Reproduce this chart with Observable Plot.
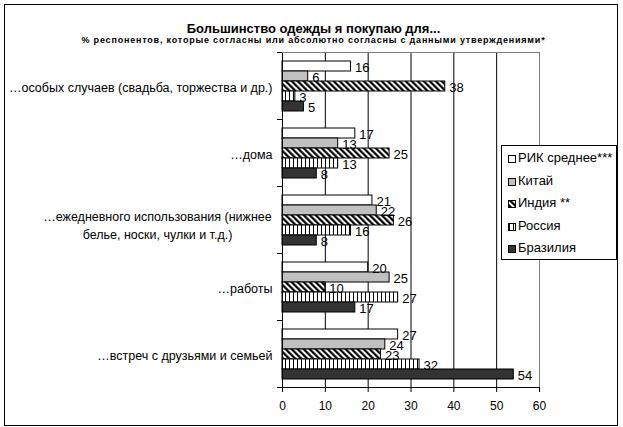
<!DOCTYPE html>
<html><head><meta charset="utf-8">
<script src="https://cdn.jsdelivr.net/npm/d3@7"></script>
<script src="https://cdn.jsdelivr.net/npm/@observablehq/plot@0.6"></script>
<style>
body{margin:0;background:#fff;font-family:"Liberation Sans",Arial,sans-serif;color:#000;}
#wrap{position:relative;width:623px;height:427px;overflow:hidden;background:#fff;}
#border{position:absolute;left:4px;top:4px;width:614px;height:422px;border:1px solid #000;box-sizing:border-box;pointer-events:none;}
#title{position:absolute;left:2px;width:623px;top:21px;line-height:15px;text-align:center;font-weight:bold;font-size:13px;}
#subtitle{position:absolute;left:2px;width:623px;top:35px;line-height:11px;text-align:center;font-weight:bold;font-size:9px;letter-spacing:0.8px;}
#chart{position:absolute;left:0;top:0;}
#legend{position:absolute;left:501px;top:145px;width:116px;height:115px;border:1px solid #000;box-sizing:border-box;background:#fff;}
.item{position:absolute;left:6px;height:14px;line-height:14px;font-size:13px;white-space:nowrap;}
.item svg{vertical-align:-1px;margin-right:2px;}
</style>
</head><body>
<div id="wrap">
  <div id="chart"></div>
  <div id="title">Большинство одежды я покупаю для...</div>
  <div id="subtitle">% респонентов, которые согласны или абсолютно согласны с данными утверждениями*</div>
  <div id="legend"></div>
  <div id="border"></div>
</div>
<script>
const categories = [
  "…особых случаев (свадьба, торжества и др.)",
  "…дома",
  "…ежедневного использования (нижнее\nбелье, носки, чулки и т.д.)",
  "…работы",
  "…встреч с друзьями и семьей"
];
const series = ["РИК среднее***", "Китай", "Индия **", "Россия", "Бразилия"];
const rik    = [16, 17, 21, 20, 27];
const china  = [6, 13, 22, 25, 24];
const india  = [38, 25, 26, 10, 23];
const russia = [3, 13, 16, 27, 32];
const brazil = [5, 8, 8, 17, 54];
const xTicks = [0, 10, 20, 30, 40, 50, 60];

const seriesValues = [rik, china, india, russia, brazil];
const fills = ["#ffffff", "#c0c0c0", "url(#hatch)", "url(#vstripe)", "#333333"];

const rows = [];
categories.forEach((c, i) => {
  series.forEach((s, j) => rows.push({category: c, series: s, value: seriesValues[j][i]}));
});

const single = categories.filter(c => !c.includes("\n"));
const multi = categories.filter(c => c.includes("\n"));

const plot = Plot.plot({
  width: 623,
  height: 427,
  marginLeft: 282,
  marginRight: 84,
  marginTop: 51,
  marginBottom: 40,
  style: {fontFamily: "'Liberation Sans', Arial, sans-serif", fontSize: "12px", background: "transparent", color: "#000"},
  x: {domain: [0, 60], ticks: xTicks, tickSize: 5, tickPadding: 9, label: null, tickFormat: d => String(d)},
  y: {domain: series, paddingInner: 0, paddingOuter: 0.66, axis: null},
  fy: {domain: categories, padding: 0, axis: null},
  color: {domain: series, range: fills},
  marks: [
    Plot.ruleX(xTicks.filter(t => t > 0 && t < 60), {stroke: "#000", strokeWidth: 1}),
    Plot.ruleX([60], {stroke: "#808080", strokeWidth: 1}),
    Plot.barX(rows, {x: "value", y: "series", fy: "category", fill: "series", stroke: "#000", strokeWidth: 1}),
    Plot.ruleX([0], {stroke: "#000", strokeWidth: 1}),
    Plot.text(rows, {x: "value", y: "series", fy: "category", text: d => String(d.value), textAnchor: "start", dx: 4, dy: 1, fontSize: 13, fill: "#000"}),
    Plot.text(single, {fy: d => d, text: d => d, frameAnchor: "left", textAnchor: "end", dx: -10, dy: 2, fontSize: 12.5, fill: "#000"}),
    Plot.text(multi, {fy: d => d, text: d => d, frameAnchor: "left", textAnchor: "middle", dx: -125, dy: 4, lineHeight: 1.5, fontSize: 12.5, fill: "#000"})
  ]
});

document.getElementById("chart").appendChild(plot);

// pattern defs
const svg = d3.select(plot);
const defs = svg.insert("defs", ":first-child");
const h = defs.append("pattern").attr("id", "hatch").attr("patternUnits", "userSpaceOnUse")
  .attr("width", 4.243).attr("height", 4.243).attr("patternTransform", "rotate(-45)");
h.append("rect").attr("width", 4.243).attr("height", 4.243).attr("fill", "#fff");
h.append("rect").attr("width", 2.2).attr("height", 4.243).attr("fill", "#000");
const v = defs.append("pattern").attr("id", "vstripe").attr("patternUnits", "userSpaceOnUse")
  .attr("width", 4).attr("height", 4);
v.append("rect").attr("width", 4).attr("height", 4).attr("fill", "#fff");
v.append("rect").attr("x", 1).attr("width", 1).attr("height", 4).attr("fill", "#000");

// frame lines and group ticks from the library's scales
const fy = plot.scale("fy");
const xs = plot.scale("x");
const x0 = xs.apply(0), x60 = xs.apply(60);
const tops = categories.map(c => fy.apply(c));
const bottom = tops[tops.length - 1] + fy.bandwidth;
const g = svg.append("g");
g.append("line").attr("x1", x0).attr("x2", x60).attr("y1", Math.round(tops[0]) + 0.5).attr("y2", Math.round(tops[0]) + 0.5).attr("stroke", "#808080");
[...tops, bottom].forEach(y => {
  g.append("line").attr("x1", x0 - 5).attr("x2", x0).attr("y1", Math.round(y) + 0.5).attr("y2", Math.round(y) + 0.5).attr("stroke", "#000");
});
g.append("line").attr("x1", x0 - 5).attr("x2", x60).attr("y1", Math.round(bottom) + 0.5).attr("y2", Math.round(bottom) + 0.5).attr("stroke", "#000");

// legend
const legend = d3.select("#legend");
series.forEach((s, i) => {
  const it = legend.append("div").attr("class", "item").style("top", (5 + i * 22.5) + "px");
  const sw = it.append("svg").attr("width", 8).attr("height", 8);
  sw.append("rect").attr("x", 0.5).attr("y", 0.5).attr("width", 7).attr("height", 7)
    .attr("fill", fills[i]).attr("stroke", "#000");
  it.append("span").text(s);
});
</script>
</body></html>
